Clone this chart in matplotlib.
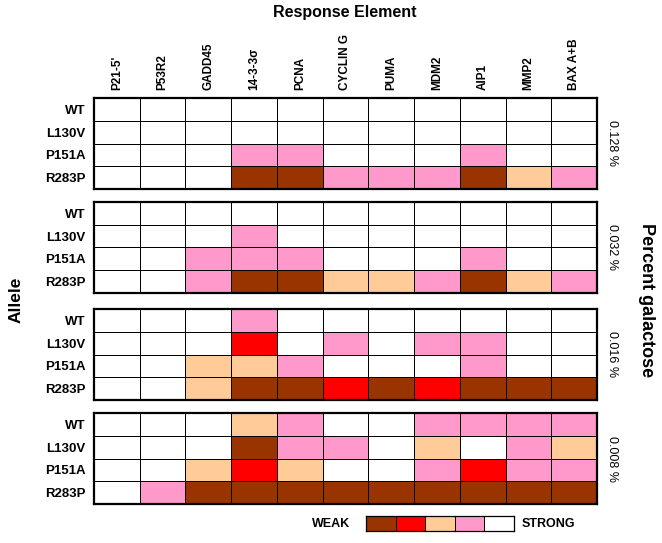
import numpy as np
import matplotlib

matplotlib.use("Agg")
import matplotlib.pyplot as plt
from matplotlib.colors import ListedColormap, BoundaryNorm

plt.rcParams["font.family"] = ["Liberation Sans", "DejaVu Sans"]

ELEMENTS = ["P21-5'", "P53R2", "GADD45", "14-3-3σ", "PCNA", "CYCLIN G",
            "PUMA", "MDM2", "AIP1", "MMP2", "BAX A+B"]
ALLELES = ["WT", "L130V", "P151A", "R283P"]
GALACTOSE = ["0.128 %", "0.032 %", "0.016 %", "0.008 %"]

# 0 = weakest (brown) ... 4 = strongest (white)
LEVELS_0128 = [
    [4, 4, 4, 4, 4, 4, 4, 4, 4, 4, 4],
    [4, 4, 4, 4, 4, 4, 4, 4, 4, 4, 4],
    [4, 4, 4, 3, 3, 4, 4, 4, 3, 4, 4],
    [4, 4, 4, 0, 0, 3, 3, 3, 0, 2, 3],
]
LEVELS_0032 = [
    [4, 4, 4, 4, 4, 4, 4, 4, 4, 4, 4],
    [4, 4, 4, 3, 4, 4, 4, 4, 4, 4, 4],
    [4, 4, 3, 3, 3, 4, 4, 4, 3, 4, 4],
    [4, 4, 3, 0, 0, 2, 2, 3, 0, 2, 3],
]
LEVELS_0016 = [
    [4, 4, 4, 3, 4, 4, 4, 4, 4, 4, 4],
    [4, 4, 4, 1, 4, 3, 4, 3, 3, 4, 4],
    [4, 4, 2, 2, 3, 4, 4, 4, 3, 4, 4],
    [4, 4, 2, 0, 0, 1, 0, 1, 0, 0, 0],
]
LEVELS_0008 = [
    [4, 4, 4, 2, 3, 4, 4, 3, 3, 3, 3],
    [4, 4, 4, 0, 3, 3, 4, 2, 4, 3, 2],
    [4, 4, 2, 1, 2, 4, 4, 3, 1, 3, 3],
    [4, 3, 0, 0, 0, 0, 0, 0, 0, 0, 0],
]
PANELS = [LEVELS_0128, LEVELS_0032, LEVELS_0016, LEVELS_0008]
LEGEND_LEVELS = [0, 1, 2, 3, 4]

COLORS = ["#993300", "#FF0000", "#FFCC99", "#FF99CC", "#FFFFFF"]
cmap = ListedColormap(COLORS)
norm = BoundaryNorm(np.arange(-0.5, 5.5, 1), cmap.N)

W, H = 662, 543
fig = plt.figure(figsize=(W / 100, H / 100), dpi=100, facecolor="white")


def px_axes(left, top, width, height):
    return fig.add_axes([left / W, 1 - (top + height) / H, width / W, height / H])


panel_tops = [98, 202, 309, 413]
grid_left, grid_width, panel_height = 94, 503, 91

for index, (levels, top) in enumerate(zip(PANELS, panel_tops)):
    axis = px_axes(grid_left, top, grid_width, panel_height)
    axis.pcolormesh(np.array(levels), cmap=cmap, norm=norm,
                    edgecolors="black", linewidth=0.55)
    axis.set_xlim(0, len(ELEMENTS))
    axis.set_ylim(len(ALLELES), 0)
    axis.set_yticks(np.arange(len(ALLELES)) + 0.5)
    axis.set_yticklabels(ALLELES, fontsize=9.5, weight="bold")
    axis.tick_params(axis="y", length=0, pad=6)
    axis.tick_params(axis="x", length=0)
    if index == 0:
        axis.xaxis.tick_top()
        axis.set_xticks(np.arange(len(ELEMENTS)) + 0.5)
        axis.set_xticklabels(ELEMENTS, rotation=90, fontsize=8.5, weight="bold")
        axis.tick_params(axis="x", pad=5.5)
    else:
        axis.set_xticks([])
    for spine in axis.spines.values():
        spine.set_linewidth(1.6)
    axis.text(1.03, 0.5, GALACTOSE[index], transform=axis.transAxes,
              rotation=-90, ha="center", va="center", fontsize=9)

fig.text(345 / W, 1 - 12 / H, "Response Element", ha="center", va="center",
         fontsize=11.5, weight="bold")
fig.text(16 / W, 1 - 300 / H, "Allele", ha="center", va="center",
         rotation=90, fontsize=12.5, weight="bold")
fig.text(646 / W, 1 - 300 / H, "Percent galactose", ha="center", va="center",
         rotation=-90, fontsize=13, weight="bold")

legend_axis = px_axes(366, 516, 148, 15)
legend_axis.pcolormesh(np.array([LEGEND_LEVELS]), cmap=cmap, norm=norm,
                       edgecolors="black", linewidth=0.6)
legend_axis.set_xticks([])
legend_axis.set_yticks([])
for spine in legend_axis.spines.values():
    spine.set_linewidth(0.9)
fig.text(350 / W, 1 - 524 / H, "WEAK", ha="right", va="center",
         fontsize=9, weight="bold")
fig.text(522 / W, 1 - 524 / H, "STRONG", ha="left", va="center",
         fontsize=9, weight="bold")

fig.savefig("out.png", dpi=100, facecolor="white")
